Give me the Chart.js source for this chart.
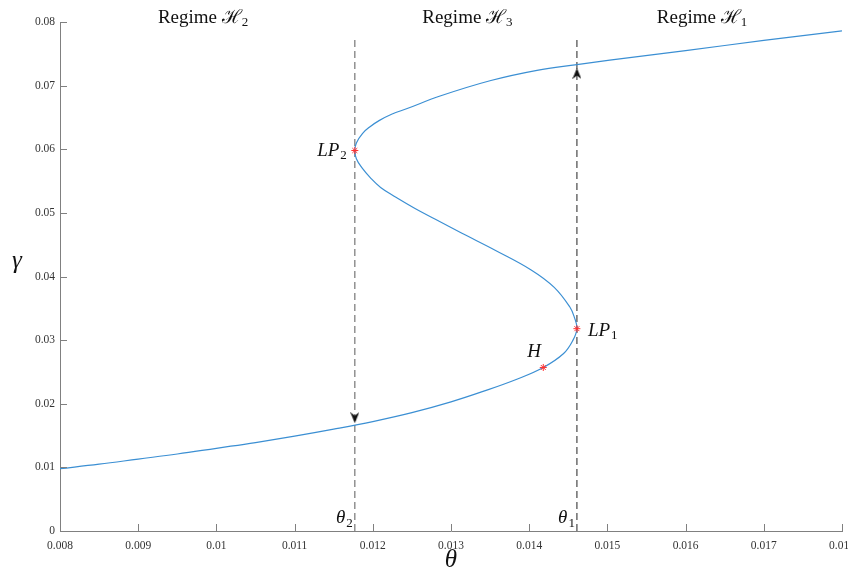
<!DOCTYPE html>
<html>
<head>
<meta charset="utf-8">
<script src="https://cdn.jsdelivr.net/npm/chart.js@4"></script>
<style>
  html, body { margin: 0; padding: 0; overflow: hidden; background: #fff; }
  canvas { display: block; }
</style>
</head>
<body>
<canvas id="chartCanvas" width="870" height="572"></canvas>
<script>
// equilibrium curve gamma(theta), read along the S-shaped branch
const theta = [0.0080, 0.0085, 0.0090, 0.0095, 0.0100, 0.0105, 0.0110, 0.0115, 0.0120, 0.0125,
               0.0130, 0.0134, 0.01385, 0.01418, 0.01444, 0.01456, 0.01461,
               0.01458, 0.01452, 0.01432, 0.01403, 0.01357, 0.01314, 0.01280, 0.01254, 0.01229,
               0.01210, 0.01197, 0.01186, 0.01179, 0.01177,
               0.01179, 0.01187, 0.01196, 0.01208, 0.01224, 0.01244, 0.01287, 0.01351, 0.01410, 0.01461,
               0.01503, 0.0160, 0.0170, 0.0180];
const gamma = [0.0098, 0.0105, 0.0113, 0.0121, 0.0130, 0.0139, 0.0149, 0.0160, 0.0172, 0.0186,
               0.0203, 0.0219, 0.0239, 0.0257, 0.0279, 0.0300, 0.0318,
               0.0335, 0.0352, 0.0383, 0.0410, 0.0441, 0.0468, 0.0490, 0.0507, 0.0525,
               0.0540, 0.0555, 0.0571, 0.0585, 0.0598,
               0.0610, 0.0625, 0.0635, 0.0645, 0.0655, 0.0664, 0.0684, 0.0708, 0.0724, 0.0733,
               0.0740, 0.0755, 0.0771, 0.0786];

// special points: LP2, LP1, H
const specialNames = ['LP2', 'LP1', 'H'];
const specialTheta = [0.01177, 0.01461, 0.01418];
const specialGamma = [0.0598, 0.0318, 0.0257];

// thresholds theta2, theta1
const thresholdTheta = [0.01177, 0.01461];
const dashTop = 0.0776;
const arrowGamma = [0.0178, 0.0719];

const xTicks = [0.008, 0.009, 0.01, 0.011, 0.012, 0.013, 0.014, 0.015, 0.016, 0.017, 0.018];
const yTicks = [0, 0.01, 0.02, 0.03, 0.04, 0.05, 0.06, 0.07, 0.08];

const regimeNames = ['2', '3', '1'];
const regimeTheta = [0.00983, 0.01321, 0.01621];

const SERIF = "'Liberation Serif', 'DejaVu Serif', serif";

// arrow head used as point image
const arrowImg = document.createElement('canvas');
arrowImg.width = 9; arrowImg.height = 11;
(function () {
    const c = arrowImg.getContext('2d');
    c.fillStyle = '#111';
    c.beginPath();
    c.moveTo(4.5, 0);
    c.lineTo(9, 11);
    c.lineTo(4.5, 7.5);
    c.lineTo(0, 11);
    c.closePath();
    c.fill();
})();

const fmt = v => String(Math.round(v * 1000) / 1000);

const curve = theta.map((t, i) => ({ x: t, y: gamma[i] }));

const annotations = {
    id: 'annotations',
    afterDraw(chart) {
        const ctx = chart.ctx;
        const xs = chart.scales.x, ys = chart.scales.y;
        const area = chart.chartArea;
        ctx.save();
        // inward ticks
        ctx.strokeStyle = '#808080';
        ctx.lineWidth = 1;
        ctx.beginPath();
        xTicks.forEach(v => {
            const px = Math.round(xs.getPixelForValue(v)) + 0.5;
            ctx.moveTo(px, area.bottom);
            ctx.lineTo(px, area.bottom - 7);
        });
        yTicks.forEach(v => {
            const py = Math.round(ys.getPixelForValue(v)) + 0.5;
            ctx.moveTo(area.left, py);
            ctx.lineTo(area.left + 7, py);
        });
        ctx.stroke();

        ctx.fillStyle = '#111';
        ctx.textBaseline = 'middle';
        // regime titles
        regimeNames.forEach((n, i) => {
            const cx = xs.getPixelForValue(regimeTheta[i]);
            ctx.font = '19px ' + SERIF;
            const w1 = ctx.measureText('Regime ').width;
            const w2 = ctx.measureText('\u210B').width;
            ctx.font = '13px ' + SERIF;
            const w3 = ctx.measureText(n).width;
            let x0 = cx - (w1 + w2 + w3) / 2;
            ctx.font = '19px ' + SERIF;
            ctx.textAlign = 'left';
            ctx.fillText('Regime ', x0, 18);
            ctx.fillText('\u210B', x0 + w1, 18);
            ctx.font = '13px ' + SERIF;
            ctx.fillText(n, x0 + w1 + w2, 23);
        });

        // math labels: main text italic with upright subscript
        function mathLabel(main, sub, x, y, align, size) {
            ctx.font = 'italic ' + size + 'px ' + SERIF;
            const w1 = ctx.measureText(main).width;
            ctx.font = Math.round(size * 0.7) + 'px ' + SERIF;
            const w2 = sub ? ctx.measureText(sub).width : 0;
            let x0 = align === 'right' ? x - w1 - w2 : x;
            ctx.textAlign = 'left';
            ctx.font = 'italic ' + size + 'px ' + SERIF;
            ctx.fillText(main, x0, y);
            if (sub) {
                ctx.font = Math.round(size * 0.7) + 'px ' + SERIF;
                ctx.fillText(sub, x0 + w1 + 1, y + size * 0.28);
            }
        }
        const lp2x = xs.getPixelForValue(specialTheta[0]), lp2y = ys.getPixelForValue(specialGamma[0]);
        mathLabel('LP', '2', lp2x - 9, lp2y, 'right', 19);
        const lp1x = xs.getPixelForValue(specialTheta[1]), lp1y = ys.getPixelForValue(specialGamma[1]);
        mathLabel('LP', '1', lp1x + 11, lp1y + 2, 'left', 19);
        const hx = xs.getPixelForValue(specialTheta[2]), hy = ys.getPixelForValue(specialGamma[2]);
        mathLabel('H', '', hx - 16, hy - 15, 'left', 19);
        // theta2, theta1 labels
        mathLabel('\u03B8', '2', xs.getPixelForValue(thresholdTheta[0]) - 3, area.bottom - 13, 'right', 19);
        mathLabel('\u03B8', '1', xs.getPixelForValue(thresholdTheta[1]) - 3, area.bottom - 13, 'right', 19);

        // axis titles
        ctx.textAlign = 'center';
        ctx.font = 'italic 25px ' + SERIF;
        ctx.textBaseline = 'alphabetic';
        ctx.fillText('\u03B3', 17, 268);
        ctx.fillText('\u03B8', (area.left + area.right) / 2, 567);
        ctx.restore();
    }
};

const datasets = [
    {
        label: 'curve',
        data: curve,
        showLine: true,
        borderColor: '#3b8fd3',
        borderWidth: 1.2,
        pointRadius: 0,
        tension: 0.4,
        order: 2
    },
    {
        label: 'theta2',
        data: [{ x: thresholdTheta[0], y: 0 }, { x: thresholdTheta[0], y: dashTop }],
        showLine: true,
        borderColor: '#808080',
        borderWidth: 1.3,
        borderDash: [7, 4],
        pointRadius: 0,
        order: 3
    },
    {
        label: 'theta1',
        data: [{ x: thresholdTheta[1], y: 0 }, { x: thresholdTheta[1], y: dashTop }],
        showLine: true,
        borderColor: '#555555',
        borderWidth: 1.3,
        borderDash: [7, 4],
        pointRadius: 0,
        order: 3
    },
    {
        label: 'arrows',
        data: [{ x: thresholdTheta[0], y: arrowGamma[0] }, { x: thresholdTheta[1], y: arrowGamma[1] }],
        showLine: false,
        pointStyle: arrowImg,
        rotation: [180, 0],
        pointRadius: 5,
        order: 1
    },
    {
        label: 'special',
        data: specialTheta.map((t, i) => ({ x: t, y: specialGamma[i] })),
        showLine: false,
        pointStyle: 'star',
        pointRadius: 3.5,
        borderColor: '#ff3030',
        backgroundColor: '#ff3030',
        borderWidth: 1,
        order: 0
    }
];

const chart = new Chart(document.getElementById('chartCanvas'), {
    type: 'scatter',
    data: { datasets },
    options: {
        responsive: false,
        animation: false,
        devicePixelRatio: 1,
        layout: { padding: { top: 22, right: 28, bottom: 0, left: 0 } },
        plugins: { legend: { display: false }, tooltip: { enabled: false } },
        scales: {
            x: {
                type: 'linear',
                min: 0.008,
                max: 0.018,
                afterFit: s => { s.height = 41; },
                afterBuildTicks: s => { s.ticks = xTicks.map(v => ({ value: v })); },
                grid: { display: false, drawTicks: false },
                border: { display: true, color: '#808080', width: 1 },
                ticks: {
                    padding: 8,
                    maxRotation: 0,
                    autoSkip: false,
                    color: '#333',
                    font: { family: SERIF, size: 11.5 },
                    callback: fmt
                }
            },
            y: {
                type: 'linear',
                min: 0,
                max: 0.08,
                afterFit: s => { s.width = 60; },
                afterBuildTicks: s => { s.ticks = yTicks.map(v => ({ value: v })); },
                grid: { display: false, drawTicks: false },
                border: { display: true, color: '#808080', width: 1 },
                ticks: {
                    padding: 5,
                    color: '#333',
                    font: { family: SERIF, size: 11.5 },
                    callback: fmt
                }
            }
        }
    },
    plugins: [annotations]
});
</script>
</body>
</html>
